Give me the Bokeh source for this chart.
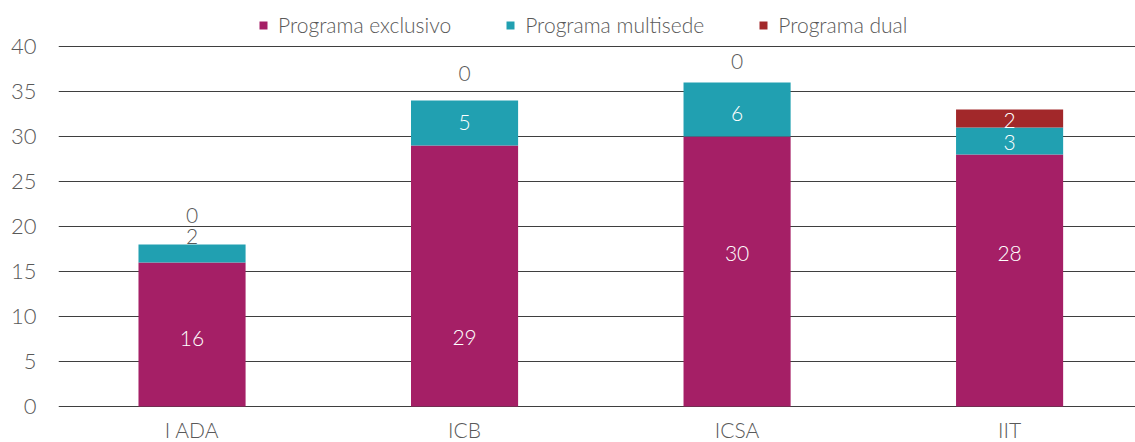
from bokeh.plotting import figure
from bokeh.models import (ColumnDataSource, Range1d, FixedTicker, Legend,
                          LegendItem)
from bokeh.embed import file_html
from bokeh.resources import INLINE

# ---- data ----
categories = ["I ADA", "ICB", "ICSA", "IIT"]
exclusivo = [16, 29, 30, 28]
multisede = [2, 5, 6, 3]
dual = [0, 0, 0, 2]
series_names = ["Programa exclusivo", "Programa multisede", "Programa dual"]
series_colors = ["#A51F66", "#21A0B1", "#A2282A"]
y_ticks = [0, 5, 10, 15, 20, 25, 30, 35, 40]
# label anchor heights (value units)
lbl_y_exclusivo = [7.6, 7.7, 17.0, 17.0]
lbl_y_multisede = [18.9, 31.6, 32.6, 29.3]
lbl_y_dual = [21.2, 37.0, 38.3, 31.8]

FONT = "Lato Light, Lato"
GREY = "#595959"

xs = list(range(len(categories)))
src = ColumnDataSource(dict(x=xs, exclusivo=exclusivo,
                            multisede=multisede, dual=dual))

p = figure(width=1135, height=442, output_backend="svg", toolbar_location=None,
           x_range=Range1d(-0.49, 3.462), y_range=Range1d(-4.0, 45.11),
           min_border_left=58, min_border_right=0, min_border_top=0,
           min_border_bottom=0)
p.outline_line_color = None
p.background_fill_color = None
p.border_fill_color = "white"

renderers = p.vbar_stack(["exclusivo", "multisede", "dual"], x="x", width=0.393,
                         color=series_colors, source=src, line_color=None)

# y axis
p.yaxis.ticker = FixedTicker(ticks=y_ticks)
p.yaxis.axis_line_color = None
p.yaxis.major_tick_line_color = None
p.yaxis.minor_tick_line_color = None
p.yaxis.major_label_text_font = FONT
p.yaxis.major_label_text_font_size = "22px"
p.yaxis.major_label_text_color = GREY
p.yaxis.major_label_standoff = 16

p.xaxis.visible = False
p.xgrid.visible = False
p.ygrid.ticker = FixedTicker(ticks=y_ticks)
p.ygrid.grid_line_color = "#3f3f3f"
p.ygrid.grid_line_width = 1

# category labels (drawn below the zero line)
csrc = ColumnDataSource(dict(x=xs, y=[-2.6] * len(categories), t=categories))
p.text(x="x", y="y", text="t", source=csrc, text_color=GREY,
       text_align="center", text_baseline="middle",
       text_font={"value": FONT}, text_font_size="21px")

# value labels
stacks = [exclusivo, multisede, dual]
lbl_ys = [lbl_y_exclusivo, lbl_y_multisede, lbl_y_dual]
bottoms = [0] * len(categories)
for vals, ly in zip(stacks, lbl_ys):
    tops = [b + v for b, v in zip(bottoms, vals)]
    cols = ["#FFFFFF" if (b <= y <= t and v > 0) else GREY
            for b, t, y, v in zip(bottoms, tops, ly, vals)]
    lsrc = ColumnDataSource(dict(x=xs, y=ly, t=[str(v) for v in vals], c=cols))
    p.text(x="x", y="y", text="t", source=lsrc, text_color="c",
           text_align="center", text_baseline="middle",
           text_font={"value": FONT}, text_font_size="21px")
    bottoms = tops

legend = Legend(items=[LegendItem(label=n, renderers=[r])
                       for n, r in zip(series_names, renderers)],
                orientation="horizontal", location=(200, 405),
                glyph_width=10, glyph_height=10, label_standoff=10, spacing=54,
                label_text_font=FONT, label_text_font_size="21px",
                label_text_color=GREY, border_line_color=None,
                background_fill_alpha=0, padding=0, margin=0,
                label_height=24)
p.add_layout(legend, "center")

open("out.html", "w").write(file_html(p, INLINE))
